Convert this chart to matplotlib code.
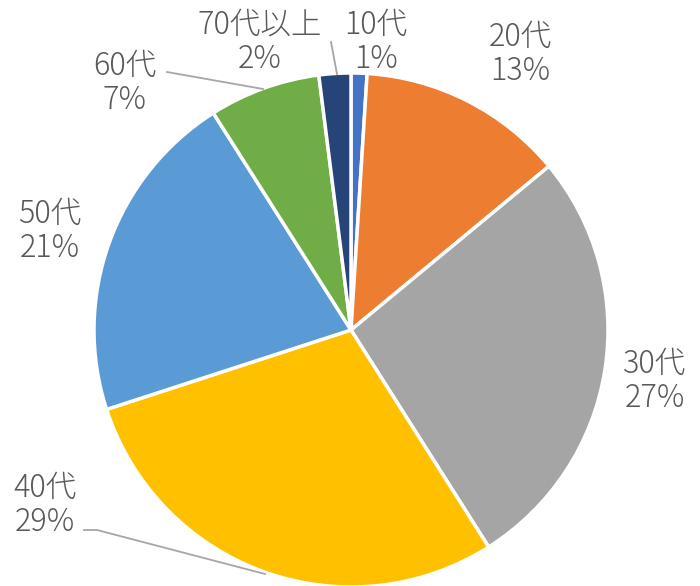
import matplotlib
matplotlib.use("Agg")
import matplotlib.pyplot as plt

plt.rcParams['font.family'] = ['Noto Sans CJK JP', 'DejaVu Sans']

categories = ["10代", "20代", "30代", "40代", "50代", "60代", "70代以上"]
values = [1, 13, 27, 29, 21, 7, 2]
colors = ["#4472C4", "#ED7D31", "#A5A5A5", "#FFC000", "#5B9BD5", "#70AD47", "#264478"]

W, H = 700, 586
fig = plt.figure(figsize=(W / 100, H / 100), dpi=100)
ax = fig.add_axes([0, 0, 1, 1])
ax.set_xlim(0, W)
ax.set_ylim(H, 0)
ax.set_aspect('equal')
ax.axis('off')

cx, cy, r = 351, 330, 257
# y axis is inverted: angle -90 points up on screen, counterclock renders clockwise
ax.pie(values, colors=colors, startangle=-90, counterclock=True,
       center=(cx, cy), radius=r,
       wedgeprops=dict(edgecolor='white', linewidth=2.5))
ax.set_xlim(0, W)
ax.set_ylim(H, 0)

label_pos = [(376, 42), (520, 54), (655, 381), (45, 505), (50, 231), (125, 83), (260, 42)]
for cat, v, (x, y) in zip(categories, values, label_pos):
    ax.text(x, y, f"{cat}\n{v}%", ha='center', va='center', fontsize=22,
            color='#595959', linespacing=1.1, fontweight='light')

lines = [
    [(331, 42), (337, 74)],
    [(167, 72), (263, 89)],
    [(84, 530), (97, 530), (265, 574)],
]
for pts in lines:
    xs, ys = zip(*pts)
    ax.plot(xs, ys, color='#A6A6A6', linewidth=1.3)

fig.savefig("out.png", dpi=100)
